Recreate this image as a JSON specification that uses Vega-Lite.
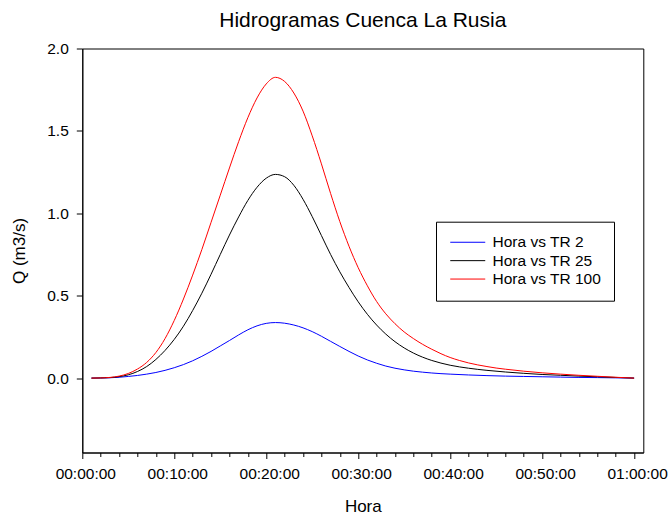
{
  "$schema": "https://vega.github.io/schema/vega-lite/v6.json",
  "autosize": "none",
  "padding": {"left": 82.3, "top": 48.5, "right": 25.7, "bottom": 66.5},
  "width": 561,
  "height": 404,
  "background": "white",
  "config": {
    "font": "Liberation Sans",
    "view": {"stroke": "black", "strokeWidth": 1},
    "axis": {"grid": false, "domainColor": "black", "tickColor": "black", "labelColor": "black", "titleColor": "black", "labelFont": "Liberation Sans", "titleFont": "Liberation Sans", "titleFontWeight": "normal"}
  },
  "title": {"text": "Hidrogramas Cuenca La Rusia", "fontSize": 21, "fontWeight": "normal", "font": "Liberation Sans", "color": "black", "frame": "group", "anchor": "middle", "baseline": "alphabetic", "offset": 22, "dy": 28},
  "data": {"values": [
    {"minuto":1,"Q":0,"serie":"Hora vs TR 2"},{"minuto":2,"Q":0.0005,"serie":"Hora vs TR 2"},{"minuto":3,"Q":0.002,"serie":"Hora vs TR 2"},{"minuto":4,"Q":0.005,"serie":"Hora vs TR 2"},{"minuto":5,"Q":0.01,"serie":"Hora vs TR 2"},{"minuto":6,"Q":0.016,"serie":"Hora vs TR 2"},{"minuto":7,"Q":0.024,"serie":"Hora vs TR 2"},{"minuto":8,"Q":0.034,"serie":"Hora vs TR 2"},{"minuto":9,"Q":0.047,"serie":"Hora vs TR 2"},{"minuto":10,"Q":0.063,"serie":"Hora vs TR 2"},{"minuto":11,"Q":0.082,"serie":"Hora vs TR 2"},{"minuto":12,"Q":0.105,"serie":"Hora vs TR 2"},{"minuto":13,"Q":0.132,"serie":"Hora vs TR 2"},{"minuto":14,"Q":0.162,"serie":"Hora vs TR 2"},{"minuto":15,"Q":0.195,"serie":"Hora vs TR 2"},{"minuto":16,"Q":0.228,"serie":"Hora vs TR 2"},{"minuto":17,"Q":0.262,"serie":"Hora vs TR 2"},{"minuto":18,"Q":0.293,"serie":"Hora vs TR 2"},{"minuto":19,"Q":0.317,"serie":"Hora vs TR 2"},{"minuto":20,"Q":0.332,"serie":"Hora vs TR 2"},{"minuto":21,"Q":0.337,"serie":"Hora vs TR 2"},{"minuto":22,"Q":0.333,"serie":"Hora vs TR 2"},{"minuto":23,"Q":0.322,"serie":"Hora vs TR 2"},{"minuto":24,"Q":0.305,"serie":"Hora vs TR 2"},{"minuto":25,"Q":0.282,"serie":"Hora vs TR 2"},{"minuto":26,"Q":0.254,"serie":"Hora vs TR 2"},{"minuto":27,"Q":0.223,"serie":"Hora vs TR 2"},{"minuto":28,"Q":0.192,"serie":"Hora vs TR 2"},{"minuto":29,"Q":0.162,"serie":"Hora vs TR 2"},{"minuto":30,"Q":0.134,"serie":"Hora vs TR 2"},{"minuto":31,"Q":0.11,"serie":"Hora vs TR 2"},{"minuto":32,"Q":0.09,"serie":"Hora vs TR 2"},{"minuto":33,"Q":0.073,"serie":"Hora vs TR 2"},{"minuto":34,"Q":0.06,"serie":"Hora vs TR 2"},{"minuto":35,"Q":0.05,"serie":"Hora vs TR 2"},{"minuto":36,"Q":0.042,"serie":"Hora vs TR 2"},{"minuto":37,"Q":0.036,"serie":"Hora vs TR 2"},{"minuto":38,"Q":0.031,"serie":"Hora vs TR 2"},{"minuto":39,"Q":0.027,"serie":"Hora vs TR 2"},{"minuto":40,"Q":0.024,"serie":"Hora vs TR 2"},{"minuto":42,"Q":0.019,"serie":"Hora vs TR 2"},{"minuto":44,"Q":0.015,"serie":"Hora vs TR 2"},{"minuto":46,"Q":0.012,"serie":"Hora vs TR 2"},{"minuto":48,"Q":0.01,"serie":"Hora vs TR 2"},{"minuto":50,"Q":0.008,"serie":"Hora vs TR 2"},{"minuto":52,"Q":0.006,"serie":"Hora vs TR 2"},{"minuto":54,"Q":0.004,"serie":"Hora vs TR 2"},{"minuto":56,"Q":0.003,"serie":"Hora vs TR 2"},{"minuto":58,"Q":0.0015,"serie":"Hora vs TR 2"},{"minuto":60,"Q":0,"serie":"Hora vs TR 2"},

    {"minuto":1,"Q":0,"serie":"Hora vs TR 25"},{"minuto":2,"Q":0.001,"serie":"Hora vs TR 25"},{"minuto":3,"Q":0.003,"serie":"Hora vs TR 25"},{"minuto":4,"Q":0.009,"serie":"Hora vs TR 25"},{"minuto":5,"Q":0.02,"serie":"Hora vs TR 25"},{"minuto":6,"Q":0.04,"serie":"Hora vs TR 25"},{"minuto":7,"Q":0.07,"serie":"Hora vs TR 25"},{"minuto":8,"Q":0.113,"serie":"Hora vs TR 25"},{"minuto":9,"Q":0.168,"serie":"Hora vs TR 25"},{"minuto":10,"Q":0.235,"serie":"Hora vs TR 25"},{"minuto":11,"Q":0.315,"serie":"Hora vs TR 25"},{"minuto":12,"Q":0.41,"serie":"Hora vs TR 25"},{"minuto":13,"Q":0.515,"serie":"Hora vs TR 25"},{"minuto":14,"Q":0.63,"serie":"Hora vs TR 25"},{"minuto":15,"Q":0.75,"serie":"Hora vs TR 25"},{"minuto":16,"Q":0.868,"serie":"Hora vs TR 25"},{"minuto":17,"Q":0.978,"serie":"Hora vs TR 25"},{"minuto":18,"Q":1.078,"serie":"Hora vs TR 25"},{"minuto":19,"Q":1.158,"serie":"Hora vs TR 25"},{"minuto":20,"Q":1.213,"serie":"Hora vs TR 25"},{"minuto":21,"Q":1.236,"serie":"Hora vs TR 25"},{"minuto":22,"Q":1.222,"serie":"Hora vs TR 25"},{"minuto":23,"Q":1.17,"serie":"Hora vs TR 25"},{"minuto":24,"Q":1.085,"serie":"Hora vs TR 25"},{"minuto":25,"Q":0.98,"serie":"Hora vs TR 25"},{"minuto":26,"Q":0.865,"serie":"Hora vs TR 25"},{"minuto":27,"Q":0.75,"serie":"Hora vs TR 25"},{"minuto":28,"Q":0.645,"serie":"Hora vs TR 25"},{"minuto":29,"Q":0.55,"serie":"Hora vs TR 25"},{"minuto":30,"Q":0.463,"serie":"Hora vs TR 25"},{"minuto":31,"Q":0.387,"serie":"Hora vs TR 25"},{"minuto":32,"Q":0.322,"serie":"Hora vs TR 25"},{"minuto":33,"Q":0.267,"serie":"Hora vs TR 25"},{"minuto":34,"Q":0.221,"serie":"Hora vs TR 25"},{"minuto":35,"Q":0.183,"serie":"Hora vs TR 25"},{"minuto":36,"Q":0.152,"serie":"Hora vs TR 25"},{"minuto":37,"Q":0.127,"serie":"Hora vs TR 25"},{"minuto":38,"Q":0.107,"serie":"Hora vs TR 25"},{"minuto":39,"Q":0.091,"serie":"Hora vs TR 25"},{"minuto":40,"Q":0.078,"serie":"Hora vs TR 25"},{"minuto":42,"Q":0.06,"serie":"Hora vs TR 25"},{"minuto":44,"Q":0.047,"serie":"Hora vs TR 25"},{"minuto":46,"Q":0.037,"serie":"Hora vs TR 25"},{"minuto":48,"Q":0.029,"serie":"Hora vs TR 25"},{"minuto":50,"Q":0.022,"serie":"Hora vs TR 25"},{"minuto":52,"Q":0.017,"serie":"Hora vs TR 25"},{"minuto":54,"Q":0.012,"serie":"Hora vs TR 25"},{"minuto":56,"Q":0.008,"serie":"Hora vs TR 25"},{"minuto":58,"Q":0.004,"serie":"Hora vs TR 25"},{"minuto":60,"Q":0,"serie":"Hora vs TR 25"},

    {"minuto":1,"Q":0,"serie":"Hora vs TR 100"},{"minuto":2,"Q":0.001,"serie":"Hora vs TR 100"},{"minuto":3,"Q":0.004,"serie":"Hora vs TR 100"},{"minuto":4,"Q":0.012,"serie":"Hora vs TR 100"},{"minuto":5,"Q":0.028,"serie":"Hora vs TR 100"},{"minuto":6,"Q":0.055,"serie":"Hora vs TR 100"},{"minuto":7,"Q":0.095,"serie":"Hora vs TR 100"},{"minuto":8,"Q":0.155,"serie":"Hora vs TR 100"},{"minuto":9,"Q":0.24,"serie":"Hora vs TR 100"},{"minuto":10,"Q":0.35,"serie":"Hora vs TR 100"},{"minuto":11,"Q":0.48,"serie":"Hora vs TR 100"},{"minuto":12,"Q":0.625,"serie":"Hora vs TR 100"},{"minuto":13,"Q":0.78,"serie":"Hora vs TR 100"},{"minuto":14,"Q":0.945,"serie":"Hora vs TR 100"},{"minuto":15,"Q":1.11,"serie":"Hora vs TR 100"},{"minuto":16,"Q":1.275,"serie":"Hora vs TR 100"},{"minuto":17,"Q":1.435,"serie":"Hora vs TR 100"},{"minuto":18,"Q":1.58,"serie":"Hora vs TR 100"},{"minuto":19,"Q":1.7,"serie":"Hora vs TR 100"},{"minuto":20,"Q":1.785,"serie":"Hora vs TR 100"},{"minuto":21,"Q":1.825,"serie":"Hora vs TR 100"},{"minuto":22,"Q":1.8,"serie":"Hora vs TR 100"},{"minuto":23,"Q":1.73,"serie":"Hora vs TR 100"},{"minuto":24,"Q":1.62,"serie":"Hora vs TR 100"},{"minuto":25,"Q":1.47,"serie":"Hora vs TR 100"},{"minuto":26,"Q":1.3,"serie":"Hora vs TR 100"},{"minuto":27,"Q":1.12,"serie":"Hora vs TR 100"},{"minuto":28,"Q":0.95,"serie":"Hora vs TR 100"},{"minuto":29,"Q":0.8,"serie":"Hora vs TR 100"},{"minuto":30,"Q":0.67,"serie":"Hora vs TR 100"},{"minuto":31,"Q":0.56,"serie":"Hora vs TR 100"},{"minuto":32,"Q":0.465,"serie":"Hora vs TR 100"},{"minuto":33,"Q":0.39,"serie":"Hora vs TR 100"},{"minuto":34,"Q":0.33,"serie":"Hora vs TR 100"},{"minuto":35,"Q":0.28,"serie":"Hora vs TR 100"},{"minuto":36,"Q":0.24,"serie":"Hora vs TR 100"},{"minuto":37,"Q":0.205,"serie":"Hora vs TR 100"},{"minuto":38,"Q":0.175,"serie":"Hora vs TR 100"},{"minuto":39,"Q":0.148,"serie":"Hora vs TR 100"},{"minuto":40,"Q":0.125,"serie":"Hora vs TR 100"},{"minuto":41,"Q":0.107,"serie":"Hora vs TR 100"},{"minuto":42,"Q":0.092,"serie":"Hora vs TR 100"},{"minuto":43,"Q":0.08,"serie":"Hora vs TR 100"},{"minuto":44,"Q":0.07,"serie":"Hora vs TR 100"},{"minuto":45,"Q":0.061,"serie":"Hora vs TR 100"},{"minuto":46,"Q":0.054,"serie":"Hora vs TR 100"},{"minuto":48,"Q":0.042,"serie":"Hora vs TR 100"},{"minuto":50,"Q":0.032,"serie":"Hora vs TR 100"},{"minuto":52,"Q":0.024,"serie":"Hora vs TR 100"},{"minuto":54,"Q":0.017,"serie":"Hora vs TR 100"},{"minuto":56,"Q":0.011,"serie":"Hora vs TR 100"},{"minuto":58,"Q":0.005,"serie":"Hora vs TR 100"},{"minuto":60,"Q":0,"serie":"Hora vs TR 100"}
  ]},
  "mark": {"type": "line", "interpolate": "monotone", "strokeWidth": 1, "clip": true},
  "encoding": {
    "x": {
      "field": "minuto", "type": "quantitative",
      "scale": {"domain": [0, 61], "nice": false, "zero": false},
      "axis": {
        "title": "Hora", "titleFontSize": 17, "titlePadding": 16,
        "values": [0,2,4,6,8,10,12,14,16,18,20,22,24,26,28,30,32,34,36,38,40,42,44,46,48,50,52,54,56,58,60],
        "labelExpr": "datum.value % 10 != 0 ? '' : (datum.value == 60 ? '01:00:00' : '00:' + (datum.value < 10 ? '0' : '') + datum.value + ':00')",
        "labelFontSize": 15.5, "labelPadding": 8, "labelOffset": 3, "labelFlush": false, "labelOverlap": false,
        "tickSize": {"condition": {"test": "datum.value % 10 == 0", "value": 6}, "value": 4}
      }
    },
    "y": {
      "field": "Q", "type": "quantitative",
      "scale": {"domain": [-0.4515, 2.0], "nice": false, "zero": false},
      "axis": {
        "title": "Q (m3/s)", "titleFontSize": 17, "titleX": -58, "titleBaseline": "alphabetic",
        "values": [0, 0.5, 1.0, 1.5, 2.0], "format": ".1f",
        "labelFontSize": 15.5, "labelPadding": 8, "tickSize": 6
      }
    },
    "color": {
      "field": "serie", "type": "nominal",
      "scale": {"domain": ["Hora vs TR 2", "Hora vs TR 25", "Hora vs TR 100"], "range": ["#0000ff", "#000000", "#ff0000"]},
      "legend": {
        "title": null, "orient": "none", "legendX": 353.7, "legendY": 173.2,
        "symbolType": "M-3,0H3", "symbolSize": 136, "symbolStrokeWidth": 1, "symbolOffset": 11.2,
        "labelOffset": 17, "labelFontSize": 15.5, "labelFont": "Liberation Sans", "labelColor": "black",
        "rowPadding": 1.4, "padding": 12.8, "strokeColor": "black", "fillColor": "white"
      }
    }
  }
}
